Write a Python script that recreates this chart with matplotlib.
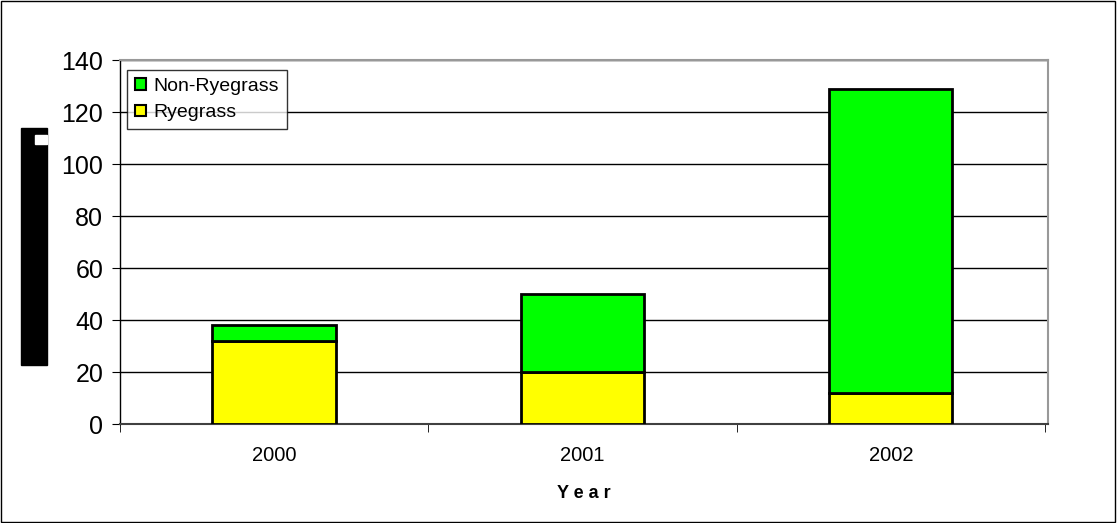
import matplotlib
matplotlib.use('Agg')
import matplotlib.pyplot as plt
from matplotlib.patches import Rectangle
import numpy as np

# data
years        = ['2000', '2001', '2002']
ryegrass     = [32, 20, 12]
non_ryegrass = [6, 30, 117]

plt.rcParams['font.family'] = ['Liberation Sans', 'DejaVu Sans']

fig = plt.figure(figsize=(11.17, 5.23), dpi=100)
ax = fig.add_axes([120 / 1117, 99 / 523, 928 / 1117, 364 / 523])

x = np.arange(len(years))
b1 = ax.bar(x, ryegrass, width=0.4, color='#ffff00', edgecolor='black', linewidth=2, label='Ryegrass', zorder=3)
b2 = ax.bar(x, non_ryegrass, width=0.4, bottom=ryegrass, color='#00ff00', edgecolor='black', linewidth=2, label='Non-Ryegrass', zorder=3)

ax.set_xlim(-0.49, len(years) - 0.49)
ax.set_ylim(0, 140)
ax.set_yticks(range(0, 141, 20))
ax.yaxis.grid(True, color='black', linewidth=1)
ax.set_axisbelow(True)

ax.set_xticks(x)
ax.set_xticklabels(years, fontsize=14.5)
ax.set_xticks(np.arange(-0.5, len(years)), minor=True)
ax.tick_params(axis='x', which='major', length=0, pad=16)
ax.tick_params(axis='x', which='minor', length=6, direction='out', color='black')
ax.tick_params(axis='y', labelsize=18, length=6, direction='out', color='black', pad=6)

for side in ['top', 'right']:
    ax.spines[side].set_color('#999999')
    ax.spines[side].set_linewidth(1.5)
ax.spines['left'].set_color('black')
ax.spines['left'].set_linewidth(1)
ax.spines['bottom'].set_color('#404040')
ax.spines['bottom'].set_linewidth(1.5)

ax.set_xlabel('Y e a r', fontsize=13, fontweight='bold', labelpad=14)

leg = ax.legend(handles=[b2, b1], loc='upper left', bbox_to_anchor=(0.008, 0.973),
                fontsize=14, frameon=True, fancybox=False, edgecolor='black',
                handlelength=0.55, handleheight=0.55, handletextpad=0.4,
                borderpad=0.4, labelspacing=0.5, borderaxespad=0)
leg.get_frame().set_linewidth(1)
for h in leg.legend_handles:
    h.set_linewidth(1.5)

# black block where the y label was
fig.patches.append(Rectangle((21 / 1117, 1 - 365 / 523), 26 / 1117, 237 / 523,
                             transform=fig.transFigure, color='black'))
fig.patches.append(Rectangle((35 / 1117, 1 - 144 / 523), 12 / 1117, 9 / 523,
                             transform=fig.transFigure, color='white'))

# outer frame
fig.patches.append(Rectangle((0.0005, 0.001), 0.998, 0.997, transform=fig.transFigure,
                             fill=False, edgecolor='black', linewidth=1))

fig.savefig('out.png', dpi=100)
